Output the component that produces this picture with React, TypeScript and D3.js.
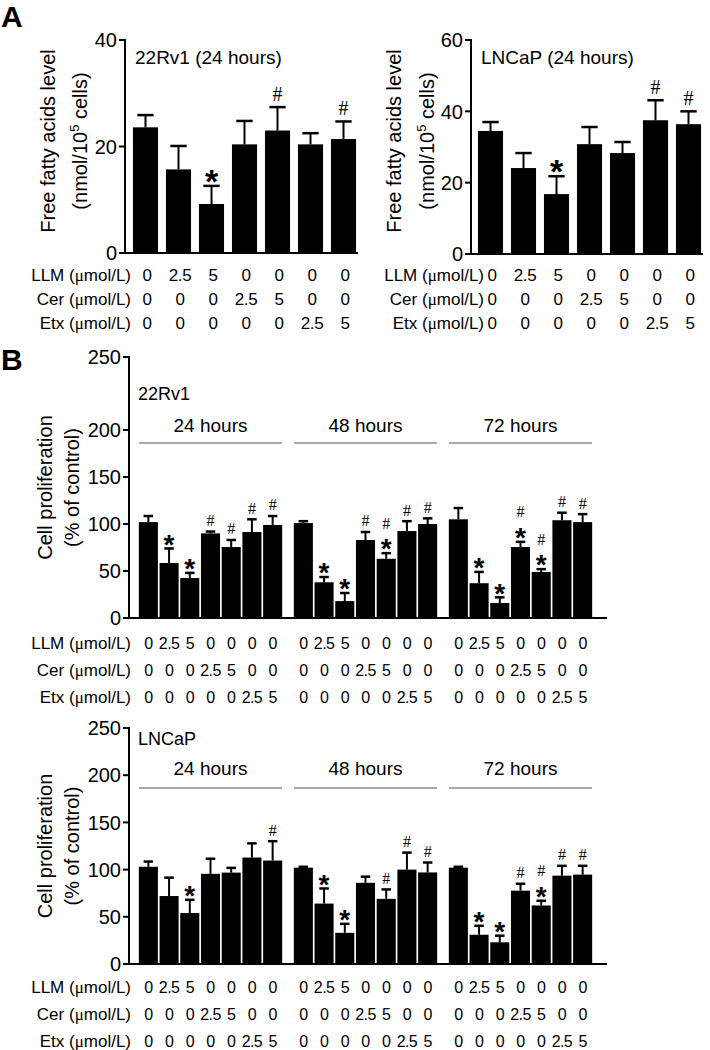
import React from 'react';
import * as d3 from 'd3';

const SANS = '"Liberation Sans", Arial, Helvetica, sans-serif';
const SERIF = '"Liberation Serif", "Times New Roman", serif';

// ---------- shared treatment table ----------
const conditions = ['ctrl', 'llm2.5', 'llm5', 'cer2.5', 'cer5', 'etx2.5', 'etx5'];
const llmDose = ['0', '2.5', '5', '0', '0', '0', '0'];
const cerDose = ['0', '0', '0', '2.5', '5', '0', '0'];
const etxDose = ['0', '0', '0', '0', '0', '2.5', '5'];
const rowDrugs = ['LLM', 'Cer', 'Etx'];
const rowDoses = [llmDose, cerDose, etxDose];

// ---------- Panel A: free fatty acids ----------
const ffa22Mean = [23.6, 15.7, 9.2, 20.4, 23.0, 20.4, 21.4];
const ffa22Err = [2.3, 4.4, 3.4, 4.4, 4.4, 2.1, 3.3];
const ffa22Sig = ['', '', '*', '', '#', '', '#'];
const ffa22Ticks = [0, 20, 40];

const ffaLnMean = [34.5, 24.1, 16.8, 30.8, 28.3, 37.5, 36.4];
const ffaLnErr = [2.5, 4.2, 5.0, 4.8, 3.1, 5.6, 3.6];
const ffaLnSig = ['', '', '*', '', '', '#', '#'];
const ffaLnTicks = [0, 20, 40, 60];

// ---------- Panel B: proliferation ----------
const timepoints = ['24 hours', '48 hours', '72 hours'];
const prolTicks = [0, 50, 100, 150, 200, 250];

const rv24Mean = [102, 58.5, 42.5, 90, 75.5, 91.5, 99];
const rv24Err = [6.5, 15.5, 5.5, 2, 7.5, 13.5, 9.5];
const rv24Sig = ['', '*', '*', '#', '#', '#', '#'];
const rv48Mean = [101, 38, 18, 83, 63, 92.5, 100];
const rv48Err = [2, 5.6, 8.6, 8.5, 6, 10.5, 6];
const rv48Sig = ['', '*', '*', '#', '#*', '#', '#'];
const rv72Mean = [105, 37, 16, 75.5, 49, 104, 102];
const rv72Err = [12, 12, 6, 5.5, 3, 8, 8.5];
const rv72Sig = ['', '*', '*', '#*', '#*', '#', '#'];

const ln24Mean = [103, 72, 54, 95.5, 96.8, 112.8, 109.6];
const ln24Err = [5.5, 19.5, 14, 16, 5, 15, 20.5];
const ln24Sig = ['', '', '*', '', '', '', '#'];
const ln48Mean = [102, 64, 33, 86, 69, 100, 97];
const ln48Err = [1, 16, 9.5, 6.5, 10, 18, 10.5];
const ln48Sig = ['', '*', '*', '', '#', '#', '#'];
const ln72Mean = [102, 31, 23, 77.7, 62, 93.6, 94.7];
const ln72Err = [1, 9.5, 7, 7.3, 5, 10.4, 9.3];
const ln72Sig = ['', '*', '*', '#', '#*', '#', '#'];

type SigProps = { cx: number; top: number; sig: string; star: number; hash: number; gap: number };
function SigMark({ cx, top, sig, star, hash, gap }: SigProps) {
  if (!sig) return null;
  const hasStar = sig.includes('*');
  const hasHash = sig.includes('#');
  const starC = top - gap;
  const hashC = hasStar ? starC - 19 : top - gap;
  return (
    <g>
      {hasStar && (
        <text x={cx} y={starC + 0.58 * star} textAnchor="middle" fontFamily={SANS} fontWeight="bold" fontSize={star}>*</text>
      )}
      {hasHash && (
        <text x={cx} y={hashC + 0.34 * hash} textAnchor="middle" fontFamily={SERIF} fontSize={hash}>#</text>
      )}
    </g>
  );
}

type BarsProps = {
  x: d3.ScaleBand<string>;
  y: d3.ScaleLinear<number, number>;
  mean: number[];
  err: number[];
  sig: string[];
  capFrac: number;
  star: number;
  hash: number;
  gap: number;
};
function Bars({ x, y, mean, err, sig, capFrac, star, hash, gap }: BarsProps) {
  const bw = x.bandwidth();
  return (
    <g>
      {conditions.map((c, i) => {
        const x0 = x(c)!;
        const cx = x0 + bw / 2;
        const top = y(mean[i]);
        const eTop = y(mean[i] + err[i]);
        const cw = bw * capFrac;
        return (
          <g key={c}>
            <rect x={x0} y={top} width={bw} height={y(0) - top} fill="#000" />
            <line x1={cx} x2={cx} y1={top} y2={eTop} stroke="#000" strokeWidth={2} />
            <line x1={cx - cw / 2} x2={cx + cw / 2} y1={eTop} y2={eTop} stroke="#000" strokeWidth={2.5} />
            <SigMark cx={cx} top={eTop} sig={sig[i]} star={star} hash={hash} gap={gap} />
          </g>
        );
      })}
    </g>
  );
}

type YAxisProps = { x: number; y: d3.ScaleLinear<number, number>; ticks: number[]; fs: number; xEnd: number };
function Axes({ x, y, ticks, fs, xEnd }: YAxisProps) {
  const [d0, d1] = [ticks[0], ticks[ticks.length - 1]];
  return (
    <g>
      <line x1={x} x2={x} y1={y(d0)} y2={y(d1) - 1} stroke="#000" strokeWidth={2} />
      <line x1={x - 1} x2={xEnd} y1={y(d0)} y2={y(d0)} stroke="#000" strokeWidth={2} />
      {ticks.map((t) => (
        <g key={t}>
          <line x1={x - 6} x2={x} y1={y(t)} y2={y(t)} stroke="#000" strokeWidth={2} />
          <text x={x - 8} y={y(t) + 0.36 * fs} textAnchor="end" fontFamily={SANS} fontSize={fs}>{t}</text>
        </g>
      ))}
    </g>
  );
}

type TableProps = { xOf: (i: number) => number; labelX: number | null; rowY: number[]; fs: number; vfs: number; ls: number };
function DoseTable({ xOf, labelX, rowY, fs, vfs, ls }: TableProps) {
  return (
    <g fontFamily={SANS}>
      {rowDrugs.map((drug, r) => (
        <g key={drug}>
          {labelX !== null && (
            <text x={labelX} y={rowY[r]} textAnchor="end" fontSize={fs}>
              {drug} (<tspan fontFamily={SERIF}>{'\u03bc'}</tspan>mol/L)
            </text>
          )}
          {rowDoses[r].map((v, i) => (
            <text key={i} x={xOf(i)} y={rowY[r]} textAnchor="middle" fontSize={vfs} letterSpacing={ls}>{v}</text>
          ))}
        </g>
      ))}
    </g>
  );
}

function FfaPanel(props: {
  axisX: number; range: [number, number]; yMax: number; y0: number; y1: number; ticks: number[];
  mean: number[]; err: number[]; sig: string[]; title: string; labX: [number, number]; labelX: number;
}) {
  const { axisX, range, yMax, y0, y1, ticks, mean, err, sig, title, labX, labelX } = props;
  const x = d3.scaleBand<string>().domain(conditions).range(range).paddingInner(0.24).paddingOuter(0.12);
  const y = d3.scaleLinear().domain([0, yMax]).range([y0, y1]);
  const cy = 141;
  return (
    <g>
      <Axes x={axisX} y={y} ticks={ticks} fs={20} xEnd={range[1] - 2} />
      <Bars x={x} y={y} mean={mean} err={err} sig={sig} capFrac={0.65} star={34} hash={20} gap={13} />
      <text x={axisX + 10} y={64} fontFamily={SANS} fontSize={19}>{title}</text>
      <text transform={`translate(${labX[0] + 7},${cy}) rotate(-90)`} textAnchor="middle" fontFamily={SANS} fontSize={20}>Free fatty acids level</text>
      <text transform={`translate(${labX[1] + 7},${cy}) rotate(-90)`} textAnchor="middle" fontFamily={SANS} fontSize={20}>
        (nmol/10<tspan fontSize={13} dy={-8}>5</tspan><tspan dy={8}> cells)</tspan>
      </text>
      <DoseTable xOf={(i) => x(conditions[i])! + x.bandwidth() / 2 + 1.5} labelX={labelX} rowY={[281, 305, 329]} fs={17} vfs={17} ls={-0.3} />
    </g>
  );
}

function ProlPanel(props: {
  y: d3.ScaleLinear<number, number>; cell: string; cellY: number; headY: number; lineY: number; rowY: number[];
  means: number[][]; errs: number[][]; sigs: string[][];
}) {
  const { y, cell, cellY, headY, lineY, rowY, means, errs, sigs } = props;
  const axisX = 129;
  const gx = d3.scaleBand<string>().domain(timepoints).range([138, 593]).paddingInner(10 / 155).paddingOuter(0);
  const cy = (y(0) + y(250)) / 2;
  return (
    <g>
      <Axes x={axisX} y={y} ticks={prolTicks} fs={20} xEnd={607} />
      {timepoints.map((tp, g) => {
        const gx0 = gx(tp)!;
        const xs = d3.scaleBand<string>().domain(conditions).range([gx0, gx0 + gx.bandwidth()]).paddingInner(0.08).paddingOuter(0.04);
        return (
          <g key={tp}>
            <Bars x={xs} y={y} mean={means[g]} err={errs[g]} sig={sigs[g]} capFrac={0.5} star={28} hash={16} gap={11} />
            <text x={gx0 + gx.bandwidth() / 2} y={headY} textAnchor="middle" fontFamily={SANS} fontSize={19}>{tp}</text>
            <line x1={gx0 + 1} x2={gx0 + gx.bandwidth() - 1} y1={lineY} y2={lineY} stroke="#8c8c8c" strokeWidth={1.5} />
            <DoseTable xOf={(i) => xs(conditions[i])! + xs.bandwidth() / 2} labelX={g === 0 ? 131 : null} rowY={rowY} fs={17} vfs={16} ls={-0.6} />
          </g>
        );
      })}
      <text x={138} y={cellY} fontFamily={SANS} fontSize={18}>{cell}</text>
      <text transform={`translate(${45 + 7},${cy}) rotate(-90)`} textAnchor="middle" fontFamily={SANS} fontSize={20}>Cell proliferation</text>
      <text transform={`translate(${72 + 7},${cy}) rotate(-90)`} textAnchor="middle" fontFamily={SANS} fontSize={20}>(% of control)</text>
    </g>
  );
}

export default function App() {
  const yUpper = d3.scaleLinear().domain([0, 200, 250]).range([618, 430, 357]);
  const yLower = d3.scaleLinear().domain([0, 250]).range([964, 728]);
  return (
    <svg width={710} height={1050} style={{ position: 'absolute', left: 0, top: 0, background: '#fff' }}>
      <rect width={710} height={1050} fill="#fff" />
      <text x={1} y={27} fontFamily={SANS} fontWeight="bold" fontSize={30}>A</text>
      <text x={1} y={370} fontFamily={SANS} fontWeight="bold" fontSize={30}>B</text>
      <FfaPanel axisX={125} range={[129, 360]} yMax={40} y0={253} y1={40} ticks={ffa22Ticks}
        mean={ffa22Mean} err={ffa22Err} sig={ffa22Sig} title="22Rv1 (24 hours)" labX={[48, 80]} labelX={131} />
      <FfaPanel axisX={471} range={[474, 705]} yMax={60} y0={254} y1={40} ticks={ffaLnTicks}
        mean={ffaLnMean} err={ffaLnErr} sig={ffaLnSig} title="LNCaP (24 hours)" labX={[394, 427]} labelX={484} />
      <ProlPanel y={yUpper} cell="22Rv1" cellY={400} headY={432} lineY={443} rowY={[649, 676, 703]}
        means={[rv24Mean, rv48Mean, rv72Mean]} errs={[rv24Err, rv48Err, rv72Err]} sigs={[rv24Sig, rv48Sig, rv72Sig]} />
      <ProlPanel y={yLower} cell="LNCaP" cellY={745} headY={775} lineY={788} rowY={[993, 1020, 1047]}
        means={[ln24Mean, ln48Mean, ln72Mean]} errs={[ln24Err, ln48Err, ln72Err]} sigs={[ln24Sig, ln48Sig, ln72Sig]} />
    </svg>
  );
}
